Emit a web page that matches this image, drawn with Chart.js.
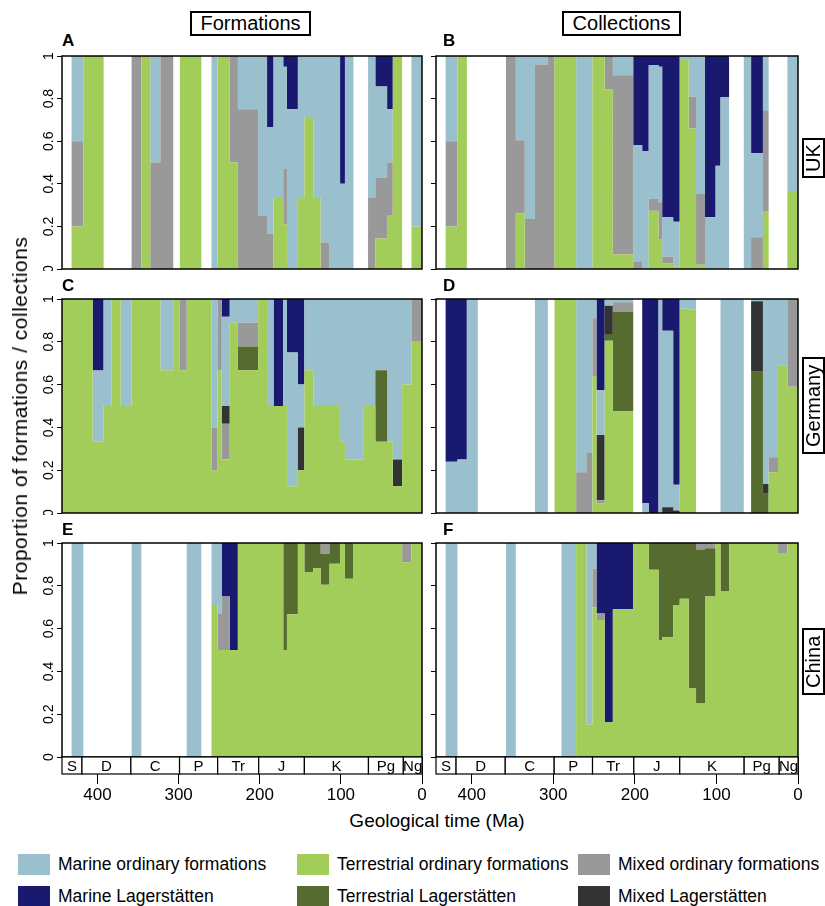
<!DOCTYPE html>
<html>
<head>
<meta charset="utf-8">
<title>Formations and collections through time</title>
<script src="https://cdn.jsdelivr.net/npm/chart.js@4.4.1/dist/chart.umd.min.js"></script>
<style>
  html, body { margin: 0; padding: 0; background: #fff; }
  body { font-family: "Liberation Sans", Arial, sans-serif; color: #000; }
  #figure { position: relative; width: 825px; height: 906px; overflow: hidden; }
  canvas.panel { position: absolute; }
  .letter { position: absolute; font-weight: bold; font-size: 17px; line-height: 17px; }
  .colhead { position: absolute; box-sizing: border-box; height: 25px; border: 2px solid #000;
             font-size: 20px; line-height: 21px; text-align: center; }
  .rowlab { position: absolute; box-sizing: border-box; width: 23px; border: 2px solid #000;
            font-size: 20px; line-height: 19px; writing-mode: vertical-rl; transform: rotate(180deg);
            display: flex; align-items: center; justify-content: center; }
  .axtitle { position: absolute; font-size: 19px; white-space: nowrap; }
  .leg { position: absolute; font-size: 17.5px; line-height: 21px; white-space: nowrap; }
  .leg span { display: inline-block; width: 32px; height: 21px; vertical-align: top; margin-right: 8px; }
</style>
</head>
<body>
<div id="figure">
  <div class="colhead" style="left:190px;top:11px;width:121px">Formations</div>
  <div class="colhead" style="left:562px;top:11px;width:119px">Collections</div>

  <canvas class="panel" id="cA" width="400" height="221" style="left:30px;top:50px"></canvas>
  <canvas class="panel" id="cB" width="402" height="221" style="left:404px;top:50px"></canvas>
  <canvas class="panel" id="cC" width="400" height="222" style="left:30px;top:293px"></canvas>
  <canvas class="panel" id="cD" width="402" height="222" style="left:404px;top:293px"></canvas>
  <canvas class="panel" id="cE" width="400" height="270" style="left:30px;top:537px"></canvas>
  <canvas class="panel" id="cF" width="402" height="270" style="left:404px;top:537px"></canvas>

  <div class="letter" style="left:62px;top:32px">A</div>
  <div class="letter" style="left:443px;top:32px">B</div>
  <div class="letter" style="left:62px;top:277px">C</div>
  <div class="letter" style="left:443px;top:277px">D</div>
  <div class="letter" style="left:62px;top:521px">E</div>
  <div class="letter" style="left:443px;top:521px">F</div>

  <div class="rowlab" style="left:802px;top:138px;height:40px">UK</div>
  <div class="rowlab" style="left:802px;top:357px;height:97px">Germany</div>
  <div class="rowlab" style="left:802px;top:628px;height:67px">China</div>

  <div class="axtitle" style="left:20px;top:416px;font-size:21px;letter-spacing:0.5px;transform:translate(-50%,-50%) rotate(-90deg)">Proportion of formations / collections</div>
  <div class="axtitle" style="left:437px;top:821px;transform:translate(-50%,-50%)">Geological time (Ma)</div>

  <div class="leg" style="left:18px;top:854px"><span style="background:#9AC0CD"></span>Marine ordinary formations</div>
  <div class="leg" style="left:297px;top:854px"><span style="background:#A2CD5A"></span>Terrestrial ordinary formations</div>
  <div class="leg" style="left:578px;top:854px"><span style="background:#999999"></span>Mixed ordinary formations</div>
  <div class="leg" style="left:18px;top:886px"><span style="background:#191970"></span>Marine Lagerstätten</div>
  <div class="leg" style="left:297px;top:886px"><span style="background:#556B2F"></span>Terrestrial Lagerstätten</div>
  <div class="leg" style="left:578px;top:886px"><span style="background:#333333"></span>Mixed Lagerstätten</div>
</div>

<script>
// --- Time bins (Ma), oldest edge first; 42 bins ---
const binEdges = [443.8, 432, 417.5, 406, 392.5, 382.7, 371.5, 358, 346, 335,
  322.5, 306.7, 298.5, 290, 281, 272, 259.5, 252, 247, 237,
  227, 214, 202, 191, 183, 171, 166.5, 153, 145, 134,
  125, 114, 101, 95, 84.5, 72.5, 66.5, 57.5, 43, 36,
  24.5, 13, 0];

// --- Geological periods for the time bar ---
const periodNames = ['S', 'D', 'C', 'P', 'Tr', 'J', 'K', 'Pg', 'Ng'];
const periodStarts = [443.8, 419.2, 358.9, 298.9, 251.9, 201.3, 145.0, 66.0, 23.0];
const periodEnds = [419.2, 358.9, 298.9, 251.9, 201.3, 145.0, 66.0, 23.0, 0];

// --- Categories, in stacking order (bottom -> top) ---
const categoryNames = ['Terrestrial ordinary formations', 'Terrestrial Lagerstätten',
  'Mixed ordinary formations', 'Mixed Lagerstätten',
  'Marine ordinary formations', 'Marine Lagerstätten'];
const categoryColors = ['#A2CD5A', '#556B2F', '#999999', '#333333', '#9AC0CD', '#191970'];

// --- A: UK formations ---
const ukFormTerrOrd = [0, .2, 1, 1, 0, 0, 0, 0, 1, 0,  0, 0, 1, 1, 1, 0, 0, 1, 1, .5,  0, 0, 0, 0, .333, .21, 0, .333, .714, .333,  0, 0, 0, 0, 0, 0, 0, .143, .25, 1,  0, .2];
const ukFormTerrLag = [0, 0, 0, 0, 0, 0, 0, 0, 0, 0,  0, 0, 0, 0, 0, 0, 0, 0, 0, 0,  0, 0, 0, 0, 0, 0, 0, 0, 0, 0,  0, 0, 0, 0, 0, 0, 0, 0, 0, 0,  0, 0];
const ukFormMixOrd = [0, .4, 0, 0, 0, 0, 0, 1, 0, .5,  1, 0, 0, 0, 0, 0, 0, 0, 0, .5,  .75, .75, .25, .167, 0, .26, 0, 0, 0, 0,  .125, 0, 0, 0, 0, 0, .333, .286, .25, 0,  0, 0];
const ukFormMixLag = [0, 0, 0, 0, 0, 0, 0, 0, 0, 0,  0, 0, 0, 0, 0, 0, 0, 0, 0, 0,  0, 0, 0, 0, 0, 0, 0, 0, 0, 0,  0, 0, 0, 0, 0, 0, 0, 0, 0, 0,  0, 0];
const ukFormMarOrd = [0, .4, 0, 0, 0, 0, 0, 0, 0, .5,  0, 0, 0, 0, 0, 0, 1, 0, 0, 0,  .25, .25, .75, .5, .667, .48, .75, .667, .286, .667,  .875, 1, .4, 1, 0, 0, .667, .428, .25, 0,  0, .8];
const ukFormMarLag = [0, 0, 0, 0, 0, 0, 0, 0, 0, 0,  0, 0, 0, 0, 0, 0, 0, 0, 0, 0,  0, 0, 0, .333, 0, .05, .25, 0, 0, 0,  0, 0, .6, 0, 0, 0, 0, .143, .25, 0,  0, 0];

// --- B: UK collections ---
const ukCollTerrOrd = [0, .2, 1, 0, 0, 0, 0, 0, .26, 0,  0, 0, 1, 1, 1, 0, 0, 1, 1, .843,  .069, .069, 0, 0, .274, .141, .027, .011, .981, .66,  .02, 0, 0, 0, 0, 0, 0, 0, .272, 0,  0, .366];
const ukCollTerrLag = [0, 0, 0, 0, 0, 0, 0, 0, 0, 0,  0, 0, 0, 0, 0, 0, 0, 0, 0, 0,  0, 0, 0, 0, 0, 0, 0, 0, 0, 0,  0, 0, 0, 0, 0, 0, 0, 0, 0, 0,  0, 0];
const ukCollMixOrd = [0, .4, 0, 0, 0, 0, 0, 1, .345, .235,  .96, 1, 0, 0, 0, 0, 0, 0, 0, .157,  .841, .841, .033, 0, .056, .172, .031, 0, 0, .15,  .332, 0, 0, 0, 0, 0, 0, .149, .473, 0,  0, 0];
const ukCollMixLag = [0, 0, 0, 0, 0, 0, 0, 0, 0, 0,  0, 0, 0, 0, 0, 0, 0, 0, 0, 0,  0, 0, 0, 0, 0, 0, 0, 0, 0, 0,  0, 0, 0, 0, 0, 0, 0, 0, 0, 0,  0, 0];
const ukCollMarOrd = [0, .4, 0, 0, 0, 0, 0, 0, .395, .765,  .04, 0, 0, 0, 0, 1, 1, 0, 0, 0,  .09, .09, .549, .554, .628, .637, .185, .211, .019, .19,  .648, .243, .485, .806, 0, 0, 1, .394, .255, 0,  0, .634];
const ukCollMarLag = [0, 0, 0, 0, 0, 0, 0, 0, 0, 0,  0, 0, 0, 0, 0, 0, 0, 0, 0, 0,  0, 0, .418, .446, .042, .05, .757, .778, 0, 0,  0, .757, .515, .194, 0, 0, 0, .457, 0, 0,  0, 0];

// --- C: Germany formations ---
const deFormTerrOrd = [1, 1, 1, .333, .5, 1, .5, 1, 1, 1,  .667, 1, .667, 1, 1, 1, .2, .667, .25, .889,  .667, .667, 1, .5, .5, .5, .125, .2, .667, .5,  .5, .5, .333, .25, .25, .5, .5, .333, .333, .125,  .6, .8];
const deFormTerrLag = [0, 0, 0, 0, 0, 0, 0, 0, 0, 0,  0, 0, 0, 0, 0, 0, 0, 0, 0, 0,  .111, .111, 0, 0, 0, 0, 0, 0, 0, 0,  0, 0, 0, 0, 0, 0, 0, .334, 0, 0,  0, 0];
const deFormMixOrd = [0, 0, 0, 0, 0, 0, 0, 0, 0, 0,  0, 0, .333, 0, 0, 0, .2, .333, .167, 0,  .111, .111, 0, 0, 0, 0, 0, 0, 0, 0,  0, 0, 0, 0, 0, 0, 0, 0, 0, 0,  0, .2];
const deFormMixLag = [0, 0, 0, 0, 0, 0, 0, 0, 0, 0,  0, 0, 0, 0, 0, 0, 0, 0, .083, 0,  0, 0, 0, 0, 0, 0, 0, .2, 0, 0,  0, 0, 0, 0, 0, 0, 0, 0, 0, .125,  0, 0];
const deFormMarOrd = [0, 0, 0, .333, .5, 0, .5, 0, 0, 0,  .333, 0, 0, 0, 0, 0, .6, 0, .417, .111,  .111, .111, 0, .5, 0, .5, .625, .2, .333, .5,  .5, .5, .667, .75, .75, .5, .5, .333, .667, .75,  .4, 0];
const deFormMarLag = [0, 0, 0, .334, 0, 0, 0, 0, 0, 0,  0, 0, 0, 0, 0, 0, 0, 0, .083, 0,  0, 0, 0, 0, .5, 0, .25, .4, 0, 0,  0, 0, 0, 0, 0, 0, 0, 0, 0, 0,  0, 0];

// --- D: Germany collections ---
const deCollTerrOrd = [0, 0, 0, 0, 0, 0, 0, 0, 0, 0,  0, 0, 1, 1, 1, 0, 0, .64, .045, .805,  .475, .475, 0, 0, 0, 0, 0, 0, .955, .95,  0, 0, 0, 0, 0, 0, 0, 0, 0, .19,  .69, .59];
const deCollTerrLag = [0, 0, 0, 0, 0, 0, 0, 0, 0, 0,  0, 0, 0, 0, 0, 0, 0, 0, 0, .031,  .465, .465, 0, 0, 0, 0, 0, 0, 0, 0,  0, 0, 0, 0, 0, 0, 0, .66, .09, 0,  0, 0];
const deCollMixOrd = [0, 0, 0, 0, 0, 0, 0, 0, 0, 0,  0, 0, 0, 0, 0, .19, .28, .27, .015, 0,  .045, .045, 0, 0, 0, 0, 0, 0, 0, 0,  0, 0, 0, 0, 0, 0, 0, 0, 0, .07,  0, .41];
const deCollMixLag = [0, 0, 0, 0, 0, 0, 0, 0, 0, 0,  0, 0, 0, 0, 0, 0, 0, 0, .305, .133,  0, 0, 0, 0, 0, 0, .027, .012, 0, 0,  0, 0, 0, 0, 0, 0, 0, .33, .045, 0,  0, 0];
const deCollMarOrd = [0, .24, .25, 1, 0, 0, 0, 0, 0, 0,  1, 0, 0, 0, 0, .81, .72, .09, .21, .031,  .015, .015, 0, .045, 0, 1, .825, .12, .045, .05,  0, 0, 0, 1, 1, 1, 0, .01, .865, .74,  .31, 0];
const deCollMarLag = [0, .76, .75, 0, 0, 0, 0, 0, 0, 0,  0, 0, 0, 0, 0, 0, 0, 0, .425, 0,  0, 0, 0, .955, 1, 0, .148, .868, 0, 0,  0, 0, 0, 0, 0, 0, 0, 0, 0, 0,  0, 0];

// --- E: China formations ---
const cnFormTerrOrd = [0, 0, 0, 0, 0, 0, 0, 0, 0, 0,  0, 0, 0, 0, 0, 0, .71, .5, .5, .5,  1, 1, 1, 1, 1, .5, .667, 1, .864, .883,  .805, .903, 1, .833, 1, 1, 1, 1, 1, 1,  .91, 1];
const cnFormTerrLag = [0, 0, 0, 0, 0, 0, 0, 0, 0, 0,  0, 0, 0, 0, 0, 0, 0, 0, 0, 0,  0, 0, 0, 0, 0, .5, .333, 0, .136, .117,  .145, .097, 0, .167, 0, 0, 0, 0, 0, 0,  0, 0];
const cnFormMixOrd = [0, 0, 0, 0, 0, 0, 0, 0, 0, 0,  0, 0, 0, 0, 0, 0, 0, .17, .25, 0,  0, 0, 0, 0, 0, 0, 0, 0, 0, 0,  .05, 0, 0, 0, 0, 0, 0, 0, 0, 0,  .09, 0];
const cnFormMixLag = [0, 0, 0, 0, 0, 0, 0, 0, 0, 0,  0, 0, 0, 0, 0, 0, 0, 0, 0, 0,  0, 0, 0, 0, 0, 0, 0, 0, 0, 0,  0, 0, 0, 0, 0, 0, 0, 0, 0, 0,  0, 0];
const cnFormMarOrd = [0, 1, 0, 0, 0, 0, 0, 1, 0, 0,  0, 0, 0, 1, 1, 0, .29, .33, 0, 0,  0, 0, 0, 0, 0, 0, 0, 0, 0, 0,  0, 0, 0, 0, 0, 0, 0, 0, 0, 0,  0, 0];
const cnFormMarLag = [0, 0, 0, 0, 0, 0, 0, 0, 0, 0,  0, 0, 0, 0, 0, 0, 0, 0, .25, .5,  0, 0, 0, 0, 0, 0, 0, 0, 0, 0,  0, 0, 0, 0, 0, 0, 0, 0, 0, 0,  0, 0];

// --- F: China collections ---
const cnCollTerrOrd = [0, 0, 0, 0, 0, 0, 0, 0, 0, 0,  0, 0, 0, 0, 0, 1, .152, .7, .64, .164,  .69, .69, 1, 1, .875, .544, .559, .708, .739, .32,  .25, .75, 1, .773, 1, 1, 1, 1, 1, 1,  .953, 1];
const cnCollTerrLag = [0, 0, 0, 0, 0, 0, 0, 0, 0, 0,  0, 0, 0, 0, 0, 0, 0, 0, 0, 0,  0, 0, 0, 0, .125, .456, .441, .292, .261, .68,  .72, .225, 0, .227, 0, 0, 0, 0, 0, 0,  0, 0];
const cnCollMixOrd = [0, 0, 0, 0, 0, 0, 0, 0, 0, 0,  0, 0, 0, 0, 0, 0, 0, .18, .03, 0,  0, 0, 0, 0, 0, 0, 0, 0, 0, 0,  .03, .025, 0, 0, 0, 0, 0, 0, 0, 0,  .047, 0];
const cnCollMixLag = [0, 0, 0, 0, 0, 0, 0, 0, 0, 0,  0, 0, 0, 0, 0, 0, 0, 0, 0, 0,  0, 0, 0, 0, 0, 0, 0, 0, 0, 0,  0, 0, 0, 0, 0, 0, 0, 0, 0, 0,  0, 0];
const cnCollMarOrd = [0, 1, 0, 0, 0, 0, 0, 1, 0, 0,  0, 0, 0, 1, 1, 0, .848, .12, 0, 0,  0, 0, 0, 0, 0, 0, 0, 0, 0, 0,  0, 0, 0, 0, 0, 0, 0, 0, 0, 0,  0, 0];
const cnCollMarLag = [0, 0, 0, 0, 0, 0, 0, 0, 0, 0,  0, 0, 0, 0, 0, 0, 0, 0, .33, .836,  .31, .31, 0, 0, 0, 0, 0, 0, 0, 0,  0, 0, 0, 0, 0, 0, 0, 0, 0, 0,  0, 0];

const FONT = '"Liberation Sans", Arial, sans-serif';

// --- Panels: canvas id, series in stacking order, which axes get labels ---
const panels = [
    { canvas: 'cA', left: true,  bottom: false, series: [ukFormTerrOrd, ukFormTerrLag, ukFormMixOrd, ukFormMixLag, ukFormMarOrd, ukFormMarLag] },
    { canvas: 'cB', left: false, bottom: false, series: [ukCollTerrOrd, ukCollTerrLag, ukCollMixOrd, ukCollMixLag, ukCollMarOrd, ukCollMarLag] },
    { canvas: 'cC', left: true,  bottom: false, series: [deFormTerrOrd, deFormTerrLag, deFormMixOrd, deFormMixLag, deFormMarOrd, deFormMarLag] },
    { canvas: 'cD', left: false, bottom: false, series: [deCollTerrOrd, deCollTerrLag, deCollMixOrd, deCollMixLag, deCollMarOrd, deCollMarLag] },
    { canvas: 'cE', left: true,  bottom: true,  series: [cnFormTerrOrd, cnFormTerrLag, cnFormMixOrd, cnFormMixLag, cnFormMarOrd, cnFormMarLag] },
    { canvas: 'cF', left: false, bottom: true,  series: [cnCollTerrOrd, cnCollTerrLag, cnCollMixOrd, cnCollMixLag, cnCollMarOrd, cnCollMarLag] }
];

// --- Utility: one step point per bin start, plus closing point at the last edge ---
function steps(vals) {
    const pts = vals.map((v, i) => ({ x: binEdges[i], y: v }));
    pts.push({ x: binEdges[vals.length], y: vals[vals.length - 1] });
    return pts;
}

// --- Plugin: black box round the plot area ---
const framePlugin = {
    id: 'frame',
    afterDatasetsDraw(chart) {
        const { ctx, chartArea: a } = chart;
        ctx.save();
        ctx.strokeStyle = '#000';
        ctx.lineWidth = 1.5;
        ctx.strokeRect(a.left, a.top, a.right - a.left, a.bottom - a.top);
        ctx.restore();
    }
};

// --- Plugin: rotated y tick labels (left column only) ---
const yLabelPlugin = {
    id: 'yLabels',
    afterDraw(chart, args, opts) {
        if (!opts.show) return;
        const { ctx, scales: { y } } = chart;
        ctx.save();
        ctx.font = '14px ' + FONT;
        ctx.fillStyle = '#000';
        ctx.textAlign = 'center';
        ctx.textBaseline = 'alphabetic';
        y.ticks.forEach(t => {
            ctx.save();
            ctx.translate(y.right - 9, y.getPixelForValue(t.value));
            ctx.rotate(-Math.PI / 2);
            ctx.fillText(String(+t.value.toFixed(1)), 0, 0);
            ctx.restore();
        });
        ctx.restore();
    }
};

// --- Plugin: geological period bar under the bottom panels ---
const periodPlugin = {
    id: 'periods',
    afterDraw(chart, args, opts) {
        if (!opts.show) return;
        const { ctx, chartArea: a, scales: { x } } = chart;
        const top = a.bottom, h = 17;
        ctx.save();
        ctx.lineWidth = 1.2;
        ctx.strokeStyle = '#000';
        ctx.font = '15px ' + FONT;
        ctx.textAlign = 'center';
        ctx.textBaseline = 'middle';
        periodNames.forEach((name, i) => {
            const x0 = x.getPixelForValue(periodStarts[i]);
            const x1 = x.getPixelForValue(periodEnds[i]);
            ctx.fillStyle = '#fff';
            ctx.fillRect(x0, top, x1 - x0, h);
            ctx.strokeRect(x0, top, x1 - x0, h);
            ctx.fillStyle = '#000';
            ctx.fillText(name, (x0 + x1) / 2, top + h / 2 + 1);
        });
        ctx.restore();
    }
};

function buildPanel(p) {
    return new Chart(document.getElementById(p.canvas), {
        type: 'line',
        data: {
            datasets: p.series.map((vals, k) => ({
                label: categoryNames[k],
                data: steps(vals),
                backgroundColor: categoryColors[k],
                borderColor: 'rgba(0,0,0,0)',
                borderWidth: 0,
                pointRadius: 0,
                pointHoverRadius: 0,
                stepped: true,
                fill: k === 0 ? 'origin' : '-1'
            }))
        },
        options: {
            responsive: false,
            animation: false,
            events: [],
            devicePixelRatio: 1,
            layout: { padding: { top: 6, right: 8, bottom: p.bottom ? 0 : 2, left: 0 } },
            plugins: {
                legend: { display: false },
                tooltip: { enabled: false },
                yLabels: { show: p.left },
                periods: { show: p.bottom }
            },
            scales: {
                x: {
                    type: 'linear',
                    reverse: true,
                    min: 0,
                    max: 443.8,
                    display: p.bottom,
                    afterFit: s => { if (p.bottom) s.height = 50; },
                    border: { display: false },
                    grid: { drawOnChartArea: false, drawTicks: true, tickLength: 27, color: '#000', lineWidth: 1 },
                    ticks: { stepSize: 100, includeBounds: false, padding: 1, color: '#000',
                             maxRotation: 0, minRotation: 0, font: { family: FONT, size: 17 } }
                },
                y: {
                    stacked: true,
                    min: 0,
                    max: 1,
                    afterFit: s => { s.width = 32; },
                    border: { display: false },
                    grid: { drawOnChartArea: false, drawTicks: true, tickLength: 5, color: '#000', lineWidth: 1 },
                    ticks: { stepSize: 0.2, display: false }
                }
            }
        },
        plugins: [framePlugin, yLabelPlugin, periodPlugin]
    });
}

panels.forEach(buildPanel);
</script>
</body>
</html>
